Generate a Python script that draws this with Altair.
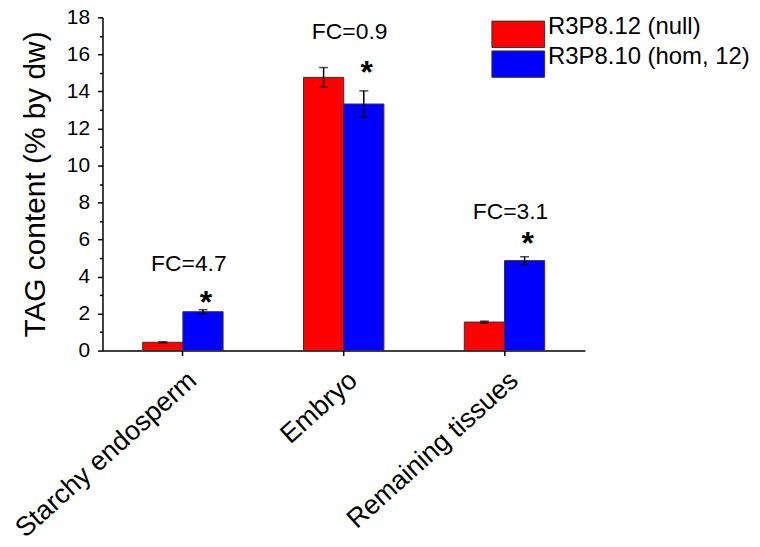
import altair as alt
import pandas as pd

categories = ["Starchy endosperm", "Embryo", "Remaining tissues"]
series_names = ["R3P8.12 (null)", "R3P8.10 (hom, 12)"]
null_vals = [0.45, 14.76, 1.54]
null_err = [0.03, 0.53, 0.05]
hom_vals = [2.1, 13.32, 4.86]
hom_err = [0.11, 0.71, 0.21]
fc_labels = ["FC=4.7", "FC=0.9", "FC=3.1"]
fc_y = [4.66, 17.2, 7.48]
star_y = [2.96, 15.37, 6.15]
y_ticks = list(range(0, 19))

FONT = "Liberation Sans"

rows = []
for i, c in enumerate(categories):
    rows.append({"category": c, "series": series_names[0], "value": null_vals[i],
                 "lo": null_vals[i] - null_err[i], "hi": null_vals[i] + null_err[i]})
    rows.append({"category": c, "series": series_names[1], "value": hom_vals[i],
                 "lo": hom_vals[i] - hom_err[i], "hi": hom_vals[i] + hom_err[i]})
df = pd.DataFrame(rows)

ann = pd.DataFrame({"category": categories, "fc": fc_labels, "fc_y": fc_y,
                    "star_y": star_y, "series": [series_names[1]] * 3, "star": ["*"] * 3})

xscale = alt.Scale(domain=categories, paddingInner=0.5, paddingOuter=0.25)
yscale = alt.Scale(domain=[0, 18], nice=False)
xoff = alt.XOffset("series:N", scale=alt.Scale(domain=series_names))

x_axis = alt.Axis(labelAngle=-42, labelAlign="right", labelBaseline="middle",
                  labelFontSize=27, labelPadding=21, labelOffset=10, tickSize=5,
                  labelColor="black", labelLimit=0, labelOverlap=False)
y_axis = alt.Axis(values=y_ticks,
                  labelExpr="datum.value % 2 === 0 ? datum.label : ''",
                  labelOverlap=False, labelLimit=0,
                  tickSize={"condition": {"test": "datum.value % 2 !== 0", "value": 3}, "value": 5},
                  labelFontSize=21, labelPadding=8, titleFontSize=30, titleFontWeight="normal",
                  titlePadding=16, labelColor="black", titleColor="black", grid=False)
Y_TITLE = "TAG content (% by dw)"


def xenc():
    return alt.X("category:N", scale=xscale, title=None, axis=x_axis)


def yenc(field):
    return alt.Y(field, scale=yscale, axis=y_axis, title=Y_TITLE)


base = alt.Chart(df)

bars = base.mark_bar(stroke="#333333", strokeWidth=1).encode(
    x=xenc(),
    xOffset=xoff,
    y=yenc("value:Q"),
    color=alt.Color("series:N", scale=alt.Scale(domain=series_names, range=["#FF0000", "#0000FF"]),
                    legend=alt.Legend(title=None, orient="none", legendX=404, legendY=3,
                                      symbolType="M-2,-1H2V1H-2Z", symbolSize=702,
                                      symbolStrokeColor="#333333", symbolStrokeWidth=1,
                                      labelFontSize=24, labelOffset=16, rowPadding=-7,
                                      labelLimit=0, labelBaseline="alphabetic",
                                      labelColor="black", padding=0)),
)

err = base.mark_rule(color="black", strokeWidth=1.5).encode(
    x=xenc(), xOffset=xoff, y=yenc("lo:Q"), y2="hi:Q")
cap_hi = base.mark_tick(color="black", thickness=1.5, size=9).encode(
    x=xenc(), xOffset=xoff, y=yenc("hi:Q"))
cap_lo = base.mark_tick(color="black", thickness=1.5, size=9).encode(
    x=xenc(), xOffset=xoff, y=yenc("lo:Q"))

abase = alt.Chart(ann)
fc_text = abase.mark_text(fontSize=23, font=FONT, dx=6, baseline="middle", color="black").encode(
    x=xenc(), y=yenc("fc_y:Q"), text="fc:N")
stars = abase.mark_text(fontSize=32, font=FONT, fontWeight="bold", dx=3, dy=17,
                        baseline="alphabetic", color="black").encode(
    x=xenc(), xOffset=alt.XOffset("series:N", scale=alt.Scale(domain=series_names)),
    y=yenc("star_y:Q"), text="star:N")

chart = alt.layer(bars, err, cap_hi, cap_lo, fc_text, stars).properties(
    width=485, height=335,
    padding={"left": 95, "top": 8, "right": 168, "bottom": 188},
    autosize=alt.AutoSizeParams(type="none"),
).configure_view(stroke=None).configure_axis(
    labelFont=FONT, titleFont=FONT, domainColor="black", domainWidth=1.5,
    tickColor="black", tickWidth=1.5,
).configure_legend(labelFont=FONT)

chart.save("out.html", embed_options={"renderer": "svg", "actions": False})
